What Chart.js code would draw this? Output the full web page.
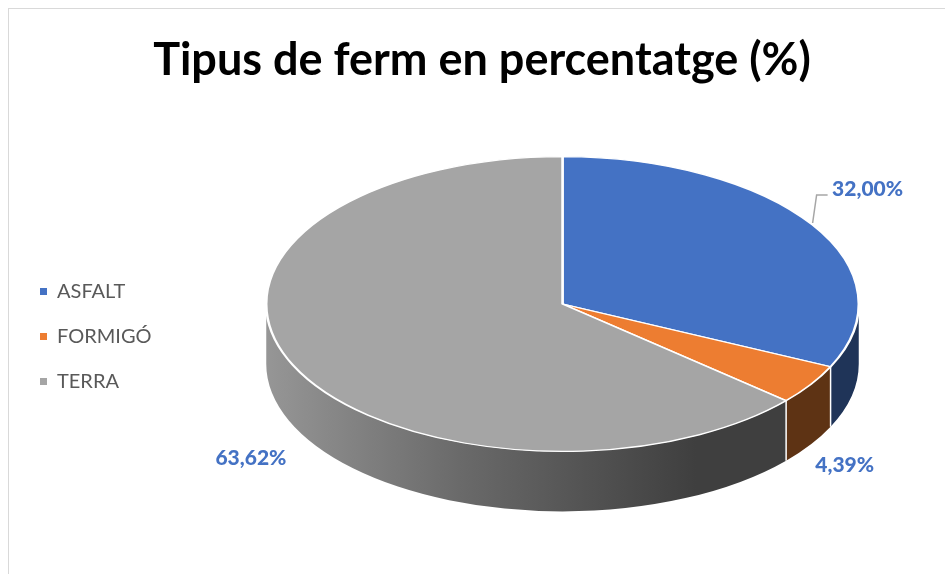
<!DOCTYPE html>
<html>
<head>
<meta charset="utf-8">
<script src="https://cdn.jsdelivr.net/npm/chart.js@4.4.1/dist/chart.umd.min.js"></script>
<style>
body { margin: 0; background: #fff; }
#wrap { position: relative; width: 945px; height: 574px; overflow: hidden; font-family: Lato, "Open Sans", sans-serif; }
#frame { position: absolute; left: 8px; top: 8px; width: 1200px; height: 1000px; border: 1.5px solid #d9d9d9; box-sizing: border-box; }
#title { position: absolute; left: 0; width: 964px; top: 31px; text-align: center; font-weight: bold; font-size: 45px; color: #000; }
#legend { position: absolute; left: 40px; top: 277px; font-size: 20px; color: #595959; }
#legend div { height: 45px; line-height: 26px; }
#legend span.box { display: inline-block; width: 7px; height: 7px; margin-right: 10px; vertical-align: middle; position: relative; top: -1px; }
canvas { position: absolute; left: 0; top: 0; }
</style>
</head>
<body>
<div id="wrap">
  <div id="frame"></div>
  <canvas id="pieChart" width="945" height="800"></canvas>
  <div id="title">Tipus de ferm en percentatge (%)</div>
  <div id="legend"></div>
</div>
<script>
const categories = ['ASFALT', 'FORMIGÓ', 'TERRA'];
const percentValues = [32.00, 4.39, 63.62];
const topColors = ['#4472c4', '#ed7d31', '#a5a5a5'];
const sideColors = ['#1f3458', '#5e3314', null]; // null = gray gradient

const TILT = 0.4975;
const DEPTH = 60;
// where each value label sits, relative to the middle of its slice edge
const labelShift = [[55, -36], [34, 81], [-42, 93]];

// legend
const legend = document.getElementById('legend');
categories.forEach((c, i) => {
    const row = document.createElement('div');
    row.innerHTML = '<span class="box" style="background:' + topColors[i] + '"></span>' + c;
    legend.appendChild(row);
});

function fmt(v) {
    return v.toFixed(2).replace('.', ',') + '%';
}

const pie3d = {
    id: 'pie3d',
    beforeDatasetsDraw(chart) {
        const ctx = chart.ctx;
        const arcs = chart.getDatasetMeta(0).data;
        const cx = arcs[0].x, cy = arcs[0].y, r = arcs[0].outerRadius;
        const ry = r * TILT;

        // sides of the cylinder (front half only)
        arcs.forEach((arc, i) => {
            const a1 = Math.max(arc.startAngle, 0);
            const a2 = Math.min(arc.endAngle, Math.PI);
            if (a2 <= a1) return;
            ctx.beginPath();
            ctx.ellipse(cx, cy, r, ry, 0, a1, a2);
            ctx.lineTo(cx + r * Math.cos(a2), cy + ry * Math.sin(a2) + DEPTH);
            ctx.ellipse(cx, cy + DEPTH, r, ry, 0, a2, a1, true);
            ctx.closePath();
            if (sideColors[i]) {
                ctx.fillStyle = sideColors[i];
            } else {
                const g = ctx.createLinearGradient(cx - r, 0, cx + r * 0.45, 0);
                g.addColorStop(0, '#969696');
                g.addColorStop(0.45, '#6a6a6a');
                g.addColorStop(1, '#3f3f3f');
                ctx.fillStyle = g;
            }
            ctx.fill();
        });

        // white seams between slices on the side
        ctx.strokeStyle = '#fff';
        ctx.lineWidth = 1.5;
        arcs.forEach(arc => {
            const a = arc.endAngle;
            if (a > 0 && a < Math.PI) {
                const x = cx + r * Math.cos(a), y = cy + ry * Math.sin(a);
                ctx.beginPath();
                ctx.moveTo(x, y);
                ctx.lineTo(x, y + DEPTH);
                ctx.stroke();
            }
        });

        // squash the top face
        ctx.save();
        ctx.translate(cx, cy);
        ctx.scale(1, TILT);
        ctx.translate(-cx, -cy);
    },
    afterDatasetsDraw(chart) {
        chart.ctx.restore();
    },
    afterDraw(chart) {
        const ctx = chart.ctx;
        const arcs = chart.getDatasetMeta(0).data;
        const cx = arcs[0].x, cy = arcs[0].y, r = arcs[0].outerRadius;
        const ry = r * TILT;
        ctx.save();
        ctx.font = '900 21px Lato';
        ctx.fillStyle = '#4472c4';
        ctx.textAlign = 'center';
        ctx.textBaseline = 'middle';
        arcs.forEach((arc, i) => {
            const mid = (arc.startAngle + arc.endAngle) / 2;
            const ax = cx + r * Math.cos(mid), ay = cy + ry * Math.sin(mid);
            const lx = ax + labelShift[i][0], ly = ay + labelShift[i][1];
            if (i === 0) {
                ctx.strokeStyle = '#a6a6a6';
                ctx.lineWidth = 1.5;
                ctx.beginPath();
                ctx.moveTo(ax, ay - 2);
                ctx.lineTo(ax + 4, ly + 6);
                ctx.lineTo(ax + 15, ly + 6);
                ctx.stroke();
            }
            ctx.fillText(fmt(percentValues[i]), lx, ly);
        });
        ctx.restore();
    }
};

new Chart(document.getElementById('pieChart'), {
    type: 'pie',
    data: {
        labels: categories,
        datasets: [{
            data: percentValues,
            backgroundColor: topColors,
            borderColor: '#ffffff',
            borderWidth: 2.5,
            clip: false
        }]
    },
    options: {
        responsive: false,
        animation: false,
        events: [],
        devicePixelRatio: 1,
        layout: { padding: { left: 265, right: 85, top: 6.5, bottom: 198.5 } },
        plugins: {
            legend: { display: false },
            tooltip: { enabled: false }
        }
    },
    plugins: [pie3d]
});
</script>
</body>
</html>
